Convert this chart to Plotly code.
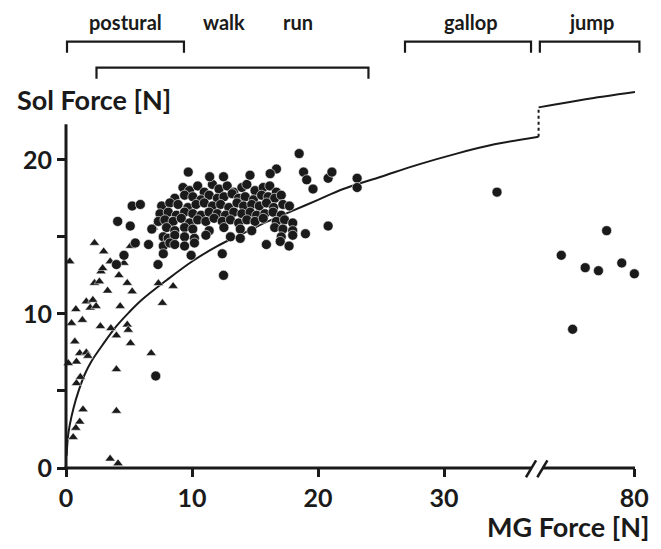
import plotly.graph_objects as go

# ---------------- data (x in axis units; values beyond the break are axis positions) -------------
tri_x = [2.26, 2.99, 3.51, 4.6, 5.12, 6.94, 7.72, 0.3, 2.78, 2.91, 2.26, 2.65, 3.3, 4.2, 4.86, 5.25,
         1.61, 2.13, 1.92, 2.39, 0.78, 1.3, 0.44, 4.3, 2.73, 3.56, 4.0, 4.86, 4.94, 5.12, 0.7, 1.09,
         1.61, 1.74, 0.83, 0.18, 1.14, 0.83, 1.35, 1.09, 0.78, 0.57, 4.0, 4.0, 6.76, 7.65, 8.5, 7.33,
         3.5, 4.13]
tri_y = [14.6, 14.05, 13.4, 13.3, 14.4, 15.6, 14.95, 13.4, 12.75, 12.96, 12.0, 12.1, 11.5, 12.5, 12.0, 11.45,
         10.8, 10.9, 10.4, 10.5, 10.3, 9.6, 9.4, 10.5, 9.2, 9.07, 8.6, 9.3, 8.96, 8.1, 8.2, 7.45,
         7.49, 7.27, 6.9, 6.8, 5.9, 5.5, 3.8, 3.0, 2.6, 2.0, 6.4, 3.7, 7.45, 10.7, 11.8, 11.99,
         0.6, 0.3]

circ_x = [
    9.28, 9.80, 10.45, 10.97, 11.62, 12.14, 12.79, 13.31, 13.96, 14.35, 15.00, 15.65, 16.17, 16.69,
    8.63, 9.41, 10.06, 10.71, 11.36, 12.01, 12.53, 13.18, 13.70, 14.22, 14.87, 15.52, 16.04, 16.56, 17.08,
    7.59, 8.24, 8.89, 9.67, 10.32, 10.97, 11.62, 12.27, 12.92, 13.57, 14.09, 14.74, 15.34, 15.91, 16.48, 17.21, 17.73,
    7.46, 8.11, 8.76, 9.41, 10.06, 10.71, 11.36, 12.01, 12.66, 13.31, 13.96, 14.61, 15.13, 15.78, 16.43, 17.08,
    7.33, 7.85, 8.50, 9.15, 9.80, 10.45, 11.10, 11.75, 12.40, 13.05, 13.70, 14.35, 15.00, 15.65, 16.69, 17.34, 17.99,
    6.81, 7.98, 8.63, 9.41, 10.06, 11.36, 12.53, 13.83, 14.74, 16.56, 17.21, 17.99,
    7.72, 8.11, 8.63, 9.41, 10.19, 11.10, 13.05, 13.83, 17.08, 17.99,
    6.55, 7.72, 8.24, 8.63, 9.41, 10.19,
    7.72, 9.93, 12.40,
    18.5, 18.85, 19.1, 19.6, 20.8, 21.1, 23.1, 23.1, 19.0, 20.8, 15.9, 17.0, 17.7, 12.5, 7.3, 7.12,
    4.1, 5.25, 5.9, 5.1, 5.5, 4.6, 4.0, 9.7, 11.4, 12.5, 14.6, 16.7, 16.2, 34.2,
    39.3, 40.2, 41.2, 42.25, 42.9, 44.1, 45.1]
circ_y = [
    18.2, 18.0, 18.3, 17.9, 18.4, 18.1, 18.3, 17.9, 18.2, 18.4, 18.0, 18.2, 18.3, 17.9,
    17.5, 17.7, 17.6, 17.4, 17.7, 17.5, 17.6, 17.8, 17.5, 17.6, 17.4, 17.7, 17.6, 17.5, 17.7,
    17.0, 17.2, 17.1, 16.9, 17.1, 17.2, 17.0, 17.1, 16.9, 17.2, 17.0, 17.1, 17.0, 17.2, 16.9, 17.1, 17.0,
    16.5, 16.6, 16.4, 16.6, 16.5, 16.4, 16.6, 16.5, 16.4, 16.6, 16.5, 16.6, 16.4, 16.5, 16.6, 16.4,
    16.0, 16.1, 16.0, 16.2, 15.9, 16.1, 16.0, 16.2, 16.0, 16.1, 15.9, 16.1, 16.0, 16.2, 16.0, 16.1, 15.9,
    15.5, 15.6, 15.4, 15.6, 15.5, 15.4, 15.6, 15.5, 15.4, 15.6, 15.5, 15.4,
    15.0, 14.9, 15.1, 15.0, 14.9, 15.1, 15.0, 14.9, 15.0, 15.1,
    14.5, 14.4, 14.6, 14.5, 14.4, 14.6,
    13.9, 13.8, 13.9,
    20.4, 19.2, 18.7, 18.1, 18.8, 19.2, 18.8, 18.2, 15.2, 15.7, 14.5, 14.7, 14.4, 12.5, 13.2, 5.97,
    16.0, 17.0, 17.1, 15.7, 14.6, 13.8, 13.2, 19.2, 18.9, 18.9, 19.0, 19.4, 19.1, 17.9,
    13.8, 9.0, 13.0, 12.8, 15.4, 13.3, 12.6]

curve_x = [0.05, 0.15, 0.3, 0.6, 1.0, 1.5, 2.0, 3.0, 4.0, 5.0, 6.0, 8.0, 10.0, 12.0, 14.0, 16.0,
           18.0, 20.0, 22.0, 25.0, 28.0, 31.0, 34.0, 37.5]
curve_y = [0.8, 2.0, 2.8, 3.9, 5.0, 6.1, 6.9, 8.1, 9.2, 10.1, 10.9, 12.2, 13.4, 14.4, 15.2, 16.0,
           16.7, 17.4, 18.1, 18.9, 19.7, 20.4, 21.0, 21.5]
jump_curve_x = [37.5, 41.0, 45.15]
jump_curve_y = [23.4, 23.9, 24.4]

x_tickvals = [0, 10, 20, 30, 45.1]
x_ticktext = ["0", "10", "20", "30", "80"]
y_tickvals = [0, 5, 10, 15, 20]
y_ticktext = ["0", "", "10", "", "20"]

brackets = [  # spans (axis units) and row
    (0.08, 9.36, 0), (2.42, 24.0, 1), (26.9, 36.9, 0), (37.6, 45.5, 0)]
labels = [("postural", 4.75), ("walk", 12.55), ("run", 18.4), ("gallop", 32.1), ("jump", 41.7)]

# ---------------- figure ----------------
XMAX, YMAX = 45.15, 25.5
INK = "#1a1a1a"
FONT = "Lato"


def px(x):
    return x / XMAX


def py(y):
    return y / YMAX


fig = go.Figure()
fig.add_trace(go.Scatter(x=curve_x, y=curve_y, mode="lines", line_shape="spline",
                         line=dict(color=INK, width=2), hoverinfo="skip"))
fig.add_trace(go.Scatter(x=[curve_x[-1], jump_curve_x[0]], y=[curve_y[-1], jump_curve_y[0]],
                         mode="lines", line=dict(color=INK, width=2, dash="dot"), hoverinfo="skip"))
fig.add_trace(go.Scatter(x=jump_curve_x, y=jump_curve_y, mode="lines", line_shape="spline",
                         line=dict(color=INK, width=2), hoverinfo="skip"))
fig.add_trace(go.Scatter(x=tri_x, y=tri_y, mode="markers", cliponaxis=False,
                         marker=dict(symbol="triangle-up", size=9, color=INK,
                                     line=dict(color="white", width=0.5))))
fig.add_trace(go.Scatter(x=circ_x, y=circ_y, mode="markers", cliponaxis=False,
                         marker=dict(symbol="circle", size=10, color=INK,
                                     line=dict(color="white", width=0.6))))

shapes = []
lw = 3
# y axis
shapes.append(dict(type="line", xref="paper", yref="paper", x0=0, x1=0, y0=py(0) - 0.004, y1=py(22.3),
                   line=dict(color=INK, width=lw)))
# x axis with break
shapes.append(dict(type="line", xref="paper", yref="paper", x0=-0.003, x1=px(36.9), y0=0, y1=0,
                   line=dict(color=INK, width=lw)))
shapes.append(dict(type="line", xref="paper", yref="paper", x0=px(37.8), x1=1.0, y0=0, y1=0,
                   line=dict(color=INK, width=lw)))
for a in (36.5, 37.4):
    shapes.append(dict(type="line", xref="paper", yref="paper", x0=px(a), x1=px(a + 0.8),
                       y0=py(-0.6), y1=py(0.5), line=dict(color=INK, width=2.5)))
# brackets above plot
row_y = [(1.0848, 1.0568), (1.0186, 0.9906)]
for x0, x1, r in brackets:
    top, bot = row_y[r]
    shapes.append(dict(type="path", xref="paper", yref="paper",
                       path=f"M {px(x0)},{bot} L {px(x0)},{top} L {px(x1)},{top} L {px(x1)},{bot}",
                       line=dict(color=INK, width=2.2)))

annotations = []
for txt, xc in labels:
    annotations.append(dict(text=txt, x=px(xc), y=1.1357, xref="paper", yref="paper",
                            showarrow=False, xanchor="center", yanchor="middle",
                            font=dict(family=FONT, size=20, color=INK, weight="bold")))
annotations.append(dict(text="Sol Force [N]", x=-0.0898, y=0.937, xref="paper", yref="paper",
                        showarrow=False, xanchor="left", yanchor="middle",
                        font=dict(family=FONT, size=27, color=INK, weight="bold")))
annotations.append(dict(text="MG Force [N]", x=1.028, y=-0.150, xref="paper", yref="paper",
                        showarrow=False, xanchor="right", yanchor="middle",
                        font=dict(family=FONT, size=27, color=INK, weight="bold")))

fig.update_layout(
    width=661, height=549,
    margin=dict(l=66, r=16, t=75, b=81),
    paper_bgcolor="white", plot_bgcolor="white",
    showlegend=False,
    shapes=shapes, annotations=annotations,
    xaxis=dict(range=[0, XMAX], showgrid=False, zeroline=False, showline=False,
               tickmode="array", tickvals=x_tickvals, ticktext=x_ticktext,
               ticks="outside", ticklen=8, tickwidth=3, tickcolor=INK,
               tickfont=dict(family=FONT, size=25, color=INK, weight="bold")),
    yaxis=dict(range=[0, YMAX], showgrid=False, zeroline=False, showline=False,
               tickmode="array", tickvals=y_tickvals, ticktext=y_ticktext,
               ticks="outside", ticklen=8, tickwidth=3, tickcolor=INK,
               tickfont=dict(family=FONT, size=25, color=INK, weight="bold")),
)

fig.write_html("out.html")
